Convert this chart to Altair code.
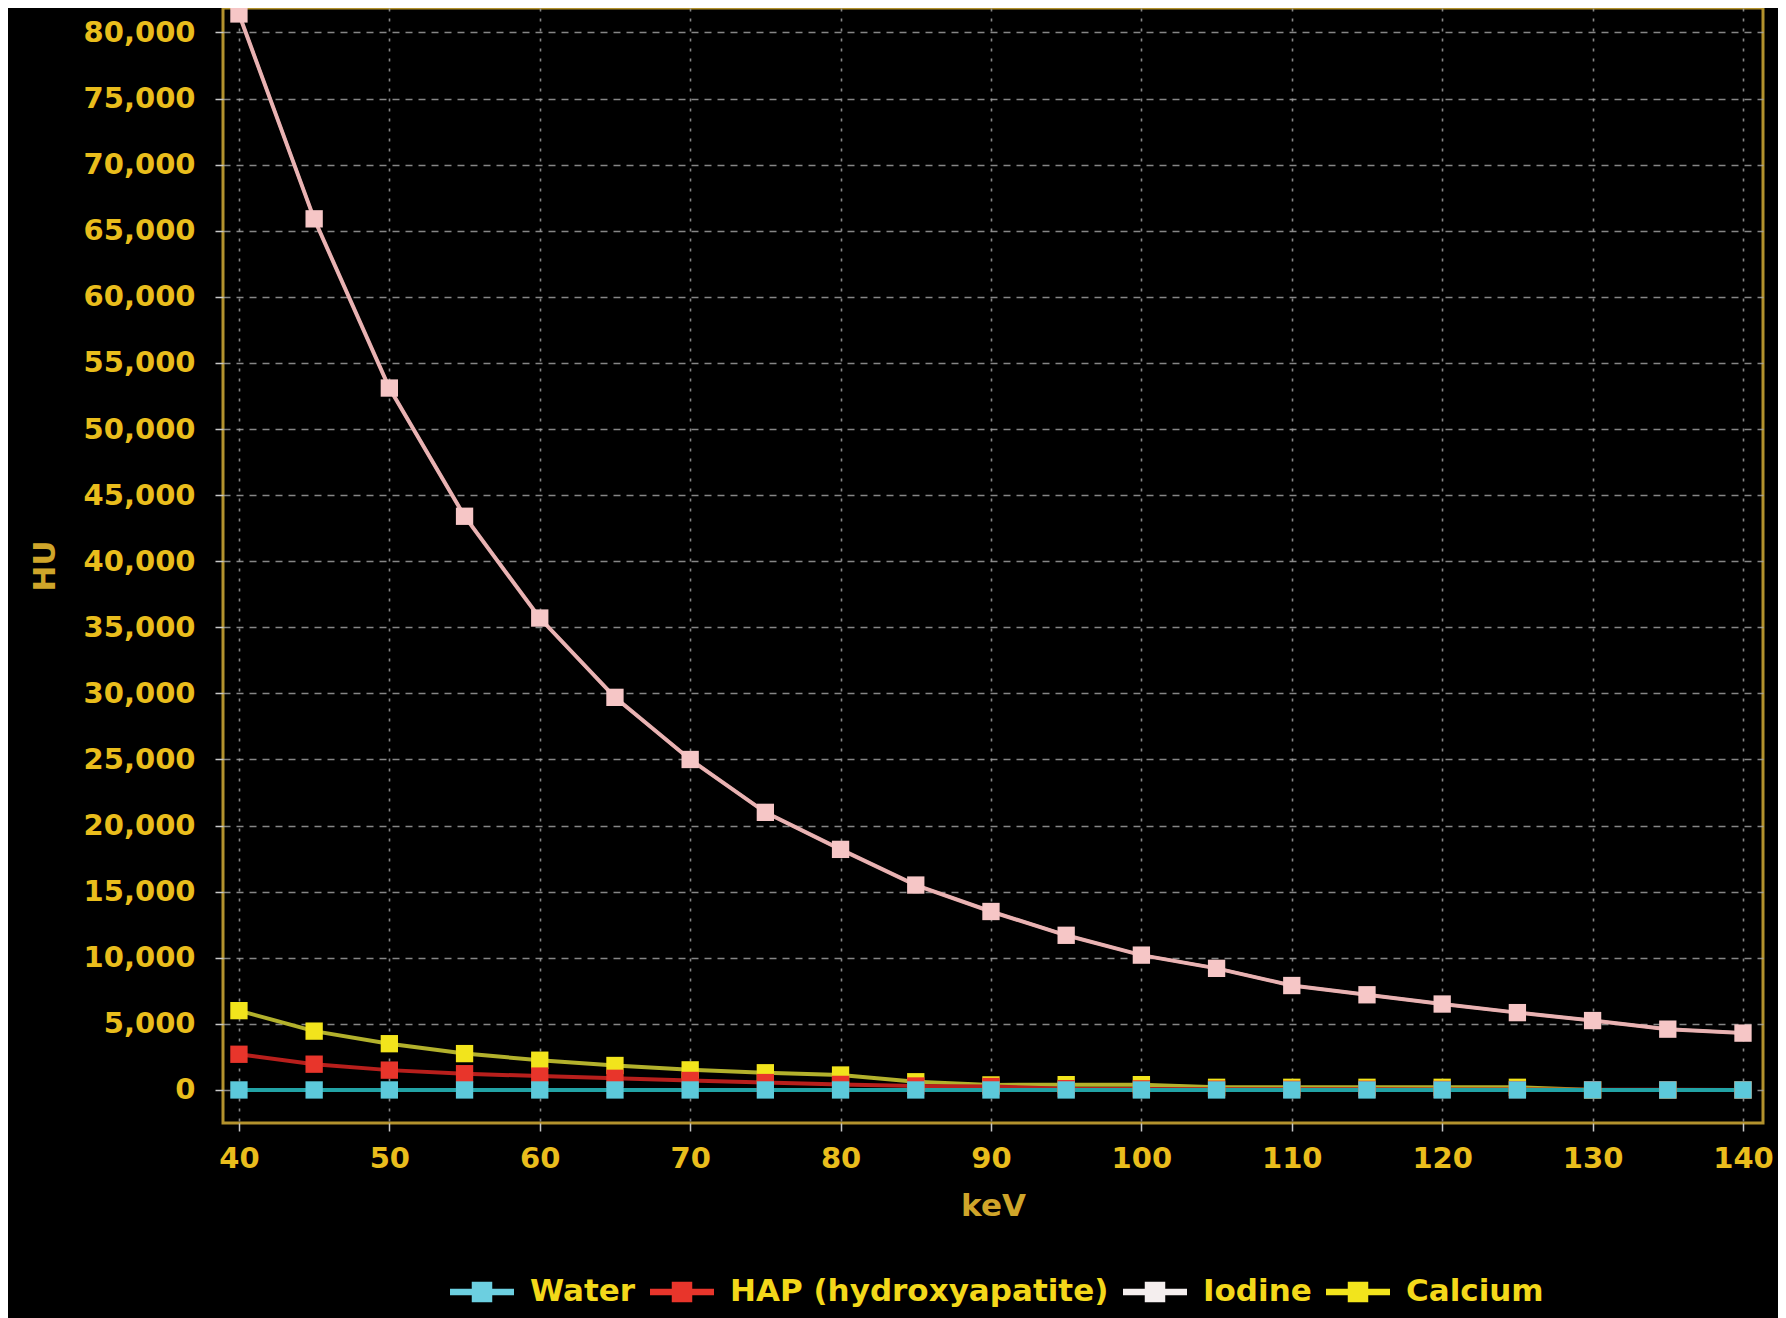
import altair as alt
import pandas as pd

kev = [40, 45, 50, 55, 60, 65, 70, 75, 80, 85, 90, 95, 100, 105, 110, 115, 120, 125, 130, 135, 140]
water = [0, 0, 0, 0, 0, 0, 0, 0, 0, 0, 0, 0, 0, 0, 0, 0, 0, 0, 0, 0, 0]
hap = [2700, 1950, 1500, 1230, 1050, 880, 720, 560, 420, 300, 260, 100, 80, 60, 50, 50, 40, 30, 20, 10, 0]
iodine = [81400, 65900, 53100, 43400, 35700, 29700, 25000, 21000, 18200, 15500, 13500, 11700,
          10200, 9200, 7900, 7200, 6500, 5850, 5250, 4600, 4300]
calcium = [6000, 4450, 3500, 2750, 2250, 1850, 1520, 1300, 1130, 620, 380, 400, 400, 200, 200,
           200, 200, 200, 0, 0, 0]

series_names = ["Water", "HAP (hydroxyapatite)", "Iodine", "Calcium"]
marker_colors = ["#5cc9da", "#e8352b", "#f6c6c6", "#f2e41c"]
line_colors = ["#22a3a6", "#b81f1c", "#e3aaaa", "#b3b12c"]
legend_colors = ["#6ccfe0", "#e8352b", "#f4eeee", "#f2e41c"]

# draw order: calcium at bottom, water on top
draw_order = [("Calcium", calcium), ("Iodine", iodine), ("HAP (hydroxyapatite)", hap), ("Water", water)]
rows = []
for name, vals in draw_order:
    for k, v in zip(kev, vals):
        rows.append({"keV": k, "HU": v, "series": name})
df = pd.DataFrame(rows)

GOLD_LABEL = "#e9bd1c"
GOLD_TITLE = "#cfa52a"
FONT = "DejaVu Sans"

x = alt.X("keV:Q",
          scale=alt.Scale(domain=[38.94, 141.33], nice=False, zero=False),
          axis=alt.Axis(values=list(range(40, 141, 10)), title="keV", format="d",
                        gridDash=[3, 7], labelPadding=13, titlePadding=18))
y = alt.Y("HU:Q",
          scale=alt.Scale(domain=[-2500, 81850], nice=False, zero=False),
          axis=alt.Axis(values=list(range(0, 80001, 5000)), format=",.0f", title="HU",
                        gridDash=[7, 6], labelPadding=20, titlePadding=22))

lines = alt.Chart(df).mark_line(strokeWidth=4).encode(
    x=x, y=y,
    color=alt.Color("series:N", scale=alt.Scale(domain=series_names, range=line_colors), legend=None),
    detail="series:N",
)
iod_line = alt.Chart(df).transform_filter(alt.datum.series == "Iodine").mark_line(strokeWidth=3, color="#e9b3b3").encode(
    x=x, y=y,
)
points = alt.Chart(df).mark_point(shape="square", filled=True, size=300, opacity=1).encode(
    x=x, y=y,
    fill=alt.Fill("series:N", scale=alt.Scale(domain=series_names, range=marker_colors), legend=None),
)

legend_path = "M-1,-0.1H1V0.1H-1Z M-0.32,-0.32H0.32V0.32H-0.32Z"
legend_layer = alt.Chart(df).mark_point(shape="square", filled=True, opacity=0).encode(
    x=x, y=y,
    color=alt.Color("series:N", scale=alt.Scale(domain=series_names, range=legend_colors),
                    legend=alt.Legend(title=None, orient="none", direction="horizontal",
                                      legendX=227, legendY=1252,
                                      symbolType=legend_path, symbolSize=4096,
                                      symbolOpacity=1, symbolStrokeWidth=0,
                                      labelColor="#f3d81a", labelFont=FONT, labelFontWeight="bold",
                                      labelFontSize=31, labelOffset=16, columnPadding=14,
                                      labelLimit=600)),
)

chart = alt.layer(lines, iod_line, points, legend_layer).resolve_scale(
    color="independent", fill="independent"
).properties(
    width=1540, height=1115,
    autosize=alt.AutoSizeParams(type="none"),
    padding={"left": 215, "top": 0, "right": 15, "bottom": 200},
    background="black",
).configure_view(
    stroke="#b3922d", strokeWidth=3, fill="black",
).configure_axis(
    domain=False,
    grid=True, gridColor="#a8a8a8", gridWidth=1.6, gridOpacity=0.8,
    ticks=True, tickColor="#c8c8c8", tickSize=8, tickWidth=1.5,
    labelColor=GOLD_LABEL, labelFont=FONT, labelFontWeight="bold", labelFontSize=29,
    titleColor=GOLD_TITLE, titleFont=FONT, titleFontWeight="bold", titleFontSize=31,
)

chart.save("out.html", embed_options={"renderer": "svg", "actions": False})
